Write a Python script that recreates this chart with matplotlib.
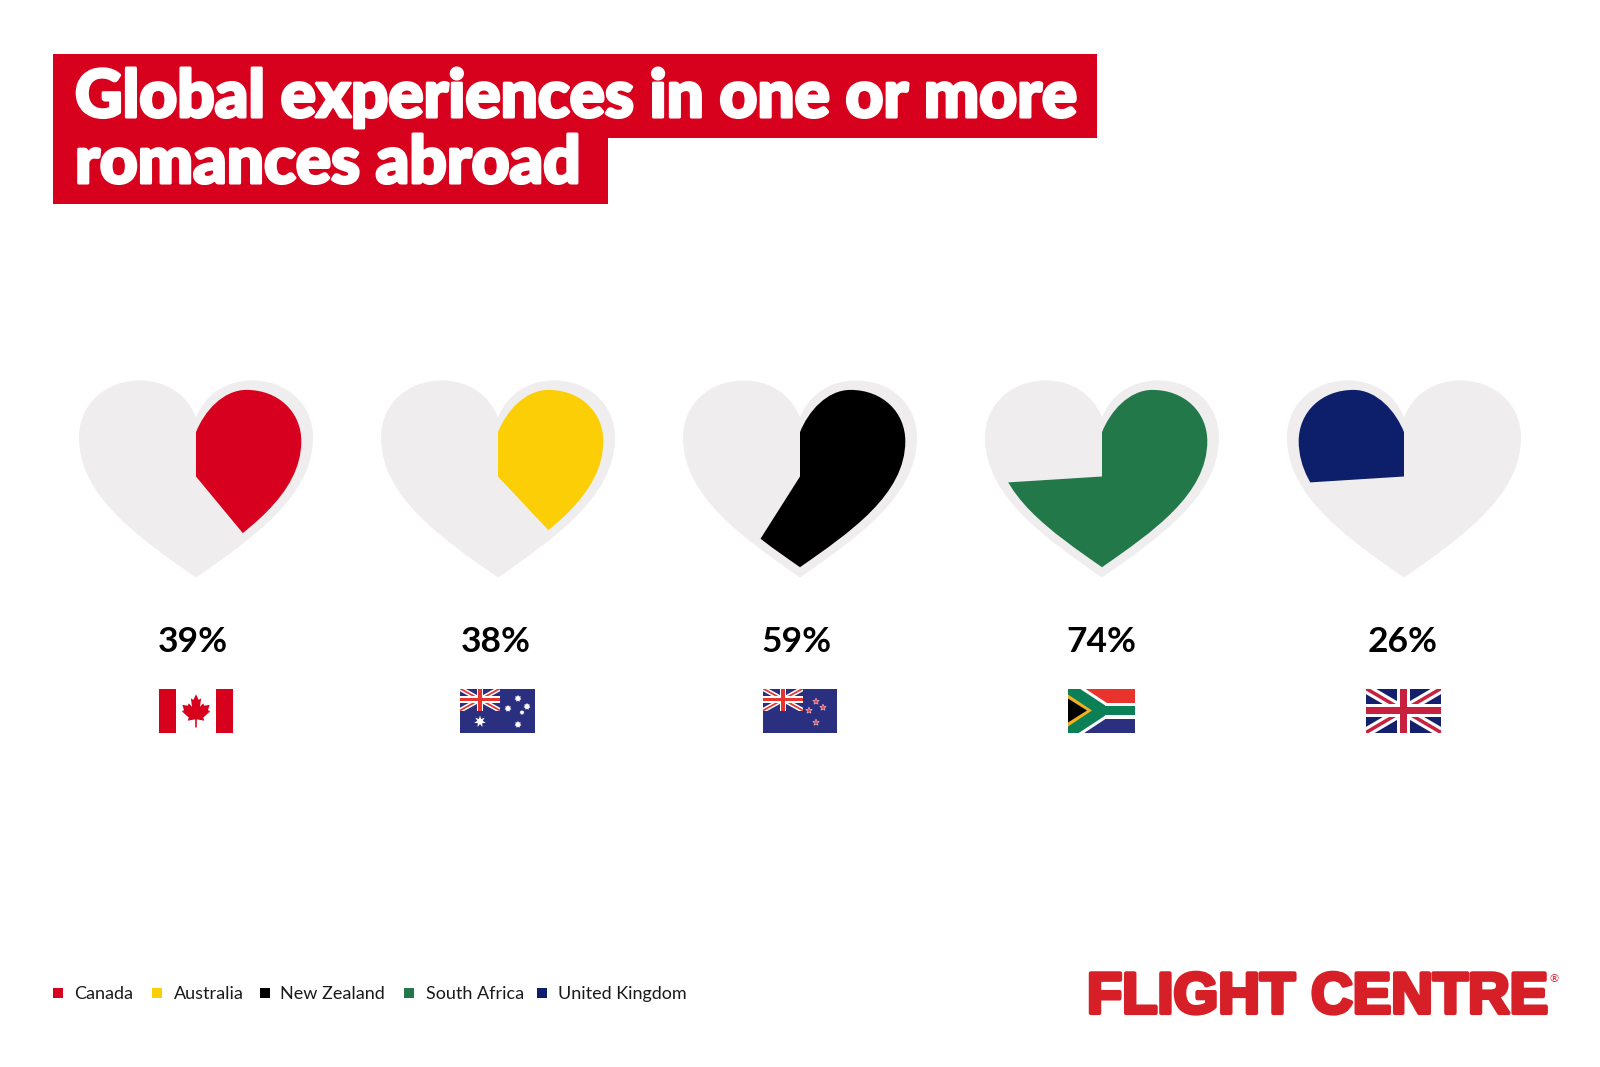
import matplotlib
matplotlib.use('Agg')
import matplotlib.pyplot as plt
import matplotlib.patheffects as pe
import numpy as np
from matplotlib.patches import PathPatch, Polygon, Rectangle, Wedge
from matplotlib.path import Path
from matplotlib.transforms import Affine2D

countries = ['Canada', 'Australia', 'New Zealand', 'South Africa', 'United Kingdom']
values = [39, 38, 59, 74, 26]
colors = ['#D7001F', '#FBCE05', '#000000', '#23784A', '#0D1F6B']
# the UK heart fills the other way round
clockwise = [True, True, True, True, False]
title_lines = ['Global experiences in one or more', 'romances abroad']

RED = '#D7001D'
GREY = '#EFEDED'
NAVY_FLAG = '#2B2F80'
UK_NAVY = '#14206B'
FLAG_RED = '#E8342C'
UK_RED = '#C8203F'

fig = plt.figure(figsize=(16, 10.67), dpi=100, facecolor='white')
ax = fig.add_axes([0, 0, 1, 1])
ax.set_xlim(0, 1600)
ax.set_ylim(1067, 0)
ax.axis('off')


def heart_path(cx, top, scale=1.0, about_y=None, notch=37):
    # right half from the notch to the tip, then the same mirrored
    right = [(0, notch), (9, notch - 23), (30, 0), (56, 0), (92, 0), (117, 25), (117, 57),
             (117, 116), (56, 158), (0, 197)]
    left = [(-x, y) for x, y in right[::-1]][1:]
    pts = np.array(right + left, dtype=float)
    codes = [Path.MOVETO] + [Path.CURVE4] * (len(pts) - 1)
    pts[:, 1] += top
    if about_y is not None:
        pts[:, 1] = about_y + (pts[:, 1] - about_y) * scale
    pts[:, 0] = cx + pts[:, 0] * scale
    return Path(pts, codes, closed=False)


def band(x0, y0, x1, y1, width):
    d = np.array([x1 - x0, y1 - y0], dtype=float)
    d = d / np.hypot(*d)
    n = np.array([-d[1], d[0]]) * width / 2
    return [(x0 + n[0], y0 + n[1]), (x1 + n[0], y1 + n[1]), (x1 - n[0], y1 - n[1]), (x0 - n[0], y0 - n[1])]


def star_pts(cx, cy, r, n=5, inner=0.45):
    ang = -np.pi / 2 + np.arange(2 * n) * np.pi / n
    rad = np.where(np.arange(2 * n) % 2 == 0, r, r * inner)
    return np.column_stack([cx + rad * np.cos(ang), cy + rad * np.sin(ang)])


def union_jack(tr, w, h, navy, red=FLAG_RED):
    clip = Rectangle((0, 0), w, h, fc=navy, ec='none', transform=tr)
    ax.add_patch(clip)
    for (a, b, c, d) in [(0, 0, w, h), (0, h, w, 0)]:
        for col, lw in [('white', h * 0.22), (red, h * 0.08)]:
            p = Polygon(band(a, b, c, d, lw), fc=col, ec='none', transform=tr)
            ax.add_patch(p)
            p.set_clip_path(clip)
    for col, t in [('white', h * 0.3), (red, h * 0.18)]:
        ax.add_patch(Rectangle((w / 2 - t / 2, 0), t, h, fc=col, ec='none', transform=tr))
        ax.add_patch(Rectangle((0, h / 2 - t / 2), w, t, fc=col, ec='none', transform=tr))


def flag_canada(tr, w, h):
    ax.add_patch(Rectangle((0, 0), w, h, fc='white', ec='none', transform=tr))
    ax.add_patch(Rectangle((0, 0), w * 0.23, h, fc=RED, ec='none', transform=tr))
    ax.add_patch(Rectangle((w * 0.77, 0), w * 0.23, h, fc=RED, ec='none', transform=tr))
    half = [(0, 0.95), (0.17, 0.62), (0.32, 0.72), (0.25, 0.22), (0.45, 0.42), (0.52, 0.28),
            (0.85, 0.33), (0.75, 0.02), (0.88, -0.05), (0.45, -0.42), (0.52, -0.6),
            (0.05, -0.52), (0.05, -1.0)]
    leaf = half + [(-x, y) for x, y in half[::-1]]
    leaf = [(w / 2 + x * 16, h / 2 - y * 17) for x, y in leaf]
    ax.add_patch(Polygon(leaf, fc=RED, ec='none', transform=tr))


def flag_australia(tr, w, h):
    ax.add_patch(Rectangle((0, 0), w, h, fc=NAVY_FLAG, ec='none', transform=tr))
    union_jack(tr, 40, 22, NAVY_FLAG)
    ax.add_patch(Polygon(star_pts(20, 33, 6, n=7), fc='white', ec='none', transform=tr))
    for sx, sy, r in [(58, 10, 3.5), (67, 18, 3.5), (48, 20, 3.5), (62, 24, 2.5), (58, 36, 3.5)]:
        ax.add_patch(Polygon(star_pts(sx, sy, r, n=7, inner=0.65), fc='white', ec='none', transform=tr))


def flag_nz(tr, w, h):
    ax.add_patch(Rectangle((0, 0), w, h, fc=NAVY_FLAG, ec='none', transform=tr))
    union_jack(tr, 40, 22, NAVY_FLAG)
    for sx, sy in [(53, 13), (60, 19), (46, 22), (53, 34)]:
        ax.add_patch(Polygon(star_pts(sx, sy, 3.4), fc='#E0455A', ec='#F4C8C8', lw=0.4, transform=tr))


def flag_south_africa(tr, w, h):
    clip = Rectangle((0, 0), w, h, fc='white', ec='none', transform=tr)
    ax.add_patch(clip)
    ax.add_patch(Rectangle((0, 0), w, 14, fc=FLAG_RED, ec='none', transform=tr))
    ax.add_patch(Rectangle((0, 30), w, 14, fc=NAVY_FLAG, ec='none', transform=tr))
    mid = (31, h / 2)
    for col, t, diag in [('white', 15, 18), ('#0B7F56', 9, 12)]:
        ax.add_patch(Rectangle((mid[0], h / 2 - t / 2), w - mid[0], t, fc=col, ec='none', transform=tr))
        for y0 in (0, h):
            p = Polygon(band(-4, y0 + (-3 if y0 == 0 else 3), mid[0] + 3, mid[1], diag), fc=col, ec='none', transform=tr)
            ax.add_patch(p)
            p.set_clip_path(clip)
    ax.add_patch(Polygon([(0, 6), (24, h / 2), (0, 38)], fc='#F2B01E', ec='none', transform=tr))
    ax.add_patch(Polygon([(0, 10), (19, h / 2), (0, 34)], fc='black', ec='none', transform=tr))


# hearts
heart_x = [196, 498, 800, 1102, 1404]
heart_top = 380.5
pie_y = 476.5
for cx, val, col, cw in zip(heart_x, values, colors, clockwise):
    ax.add_patch(PathPatch(heart_path(cx, heart_top), fc=GREY, ec='none'))
    inner = PathPatch(heart_path(cx, heart_top, 0.9, 474.5, notch=47), fc='none', ec='none')
    ax.add_patch(inner)
    sweep = val / 100 * 360
    # y axis is flipped: -90 is straight up and angles run clockwise on screen
    if cw:
        w = Wedge((cx, pie_y), 300, -90, -90 + sweep, fc=col, ec='none')
    else:
        w = Wedge((cx, pie_y), 300, -90 - sweep, -90, fc=col, ec='none')
    ax.add_patch(w)
    w.set_clip_path(inner)

# percent labels
label_x = [193, 496, 797, 1101, 1403]
for x, val in zip(label_x, values):
    ax.text(x, 642, f'{val}%', ha='center', va='center', fontsize=25.5, fontweight='bold',
            family='Lato', color='black')

# flags: (left, width)
flag_y, flag_h = 688.5, 44
flag_boxes = [(159, 74), (460, 75), (763, 74), (1068, 67), (1366, 75)]
flag_funcs = [flag_canada, flag_australia, flag_nz, flag_south_africa, None]
for (fx, fw), func in zip(flag_boxes, flag_funcs):
    tr = Affine2D().translate(fx, flag_y) + ax.transData
    if func is None:
        union_jack(tr, fw, flag_h, UK_NAVY, red=UK_RED)
    else:
        func(tr, fw, flag_h)

# title block
ax.add_patch(Rectangle((53, 54), 1044, 84, fc=RED, ec='none'))
ax.add_patch(Rectangle((53, 138), 555, 66, fc=RED, ec='none'))
heavy = [pe.withStroke(linewidth=2.2, foreground='white')]
for y, line in zip([117, 183], title_lines):
    ax.text(75, y, line, ha='left', va='baseline', fontsize=47.3, fontweight='black',
            family='Lato', color='white', path_effects=heavy)

# legend
marker_x = [53, 152, 260, 404, 537]
text_x = [74.5, 173.5, 280.5, 425.5, 558]
for mx, tx, name, col in zip(marker_x, text_x, countries, colors):
    ax.add_patch(Rectangle((mx, 988), 10, 10, fc=col, ec='none'))
    ax.text(tx, 999, name, ha='left', va='baseline', fontsize=13, family='Lato', color='#1a1a1a')

# logo
ax.text(1087, 998, 'FLIGHT CENTRE', ha='left', va='center', fontsize=41.5, fontweight='bold',
        family='Liberation Sans', color='#D71F27',
        path_effects=[pe.withStroke(linewidth=3, foreground='#D71F27')])
ax.text(1554, 979, '®', ha='center', va='center', fontsize=8, family='DejaVu Sans', color='#D71F27')

fig.savefig('out.png', dpi=100)
